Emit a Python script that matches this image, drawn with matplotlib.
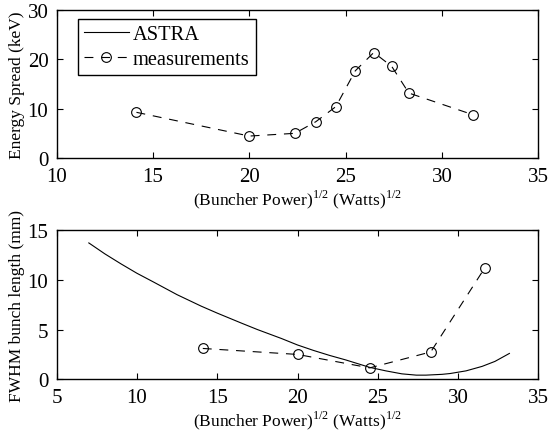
import matplotlib
matplotlib.use("Agg")
import matplotlib.pyplot as plt

# energy spread measurements (top panel)
es_x = [14.14, 20.0, 22.36, 23.45, 24.49, 25.5, 26.46, 27.39, 28.28, 31.62]
es_y = [9.3, 4.5, 5.05, 7.4, 10.45, 17.7, 21.4, 18.6, 13.2, 8.8]

# bunch length: ASTRA simulation curve (bottom panel)
astra_x = [7.0, 8.0, 9.0, 10.0, 11.0, 12.5, 14.0, 15.0, 16.5, 17.5, 19.0, 20.0,
           21.0, 22.0, 23.0, 24.5, 25.5, 26.5, 27.4, 28.0, 29.0, 29.5, 30.5,
           31.5, 32.3, 33.2]
astra_y = [13.7, 12.6, 11.6, 10.65, 9.8, 8.5, 7.35, 6.65, 5.65, 5.0, 4.1, 3.45,
           2.9, 2.4, 1.95, 1.2, 0.85, 0.55, 0.42, 0.42, 0.5, 0.58, 0.85,
           1.3, 1.8, 2.6]

# bunch length measurements (bottom panel)
bl_x = [14.1, 20.0, 24.5, 28.3, 31.65]
bl_y = [3.1, 2.5, 1.15, 2.75, 11.15]

plt.rcParams["font.family"] = ["Liberation Serif", "DejaVu Serif"]
plt.rcParams["mathtext.fontset"] = "custom"
plt.rcParams["mathtext.rm"] = "Liberation Serif"

XLABEL = "(Buncher Power)$^{1/2}$ (Watts)$^{1/2}$"
meas_style = dict(color="black", linewidth=0.8, linestyle=(0, (8, 7)),
                  marker="o", markersize=7, markerfacecolor="none",
                  markeredgewidth=0.8)


def style_axes(ax):
    ax.tick_params(direction="in", top=True, right=True, length=4,
                   width=0.8, labelsize=15, pad=6)
    for s in ax.spines.values():
        s.set_linewidth(1.0)


fig = plt.figure(figsize=(5.49, 4.35), dpi=100)
ax1 = fig.add_axes([0.1033, 0.6338, 0.8772, 0.3409])
ax2 = fig.add_axes([0.1033, 0.1257, 0.8772, 0.3433])

# top: energy spread
ax1.plot([], [], color="black", linewidth=0.8, label="ASTRA")
ax1.plot(es_x, es_y, label="measurements", **meas_style)
ax1.set_xlim(10, 35)
ax1.set_ylim(0, 30)
ax1.set_xticks([10, 15, 20, 25, 30, 35])
ax1.set_yticks([0, 10, 20, 30])
ax1.set_xlabel(XLABEL, fontsize=12.5, labelpad=1)
ax1.set_ylabel("Energy Spread (keV)", fontsize=12.5, labelpad=2)
style_axes(ax1)
leg = ax1.legend(loc="upper left", bbox_to_anchor=(0.044, 0.94),
                 borderaxespad=0, fontsize=14.7, frameon=True, fancybox=False,
                 edgecolor="black", framealpha=1, handlelength=2.2,
                 handletextpad=0.2, borderpad=0.3, labelspacing=0.25)
leg.get_frame().set_linewidth(1.0)

# bottom: bunch length
ax2.plot(astra_x, astra_y, color="black", linewidth=0.8)
ax2.plot(bl_x, bl_y, **meas_style)
ax2.set_xlim(5, 35)
ax2.set_ylim(0, 15)
ax2.set_xticks([5, 10, 15, 20, 25, 30, 35])
ax2.set_yticks([0, 5, 10, 15])
ax2.set_xlabel(XLABEL, fontsize=12.5, labelpad=1)
ax2.set_ylabel("FWHM bunch length (mm)", fontsize=12.5, labelpad=2)
style_axes(ax2)

fig.savefig("out.png", dpi=100)
